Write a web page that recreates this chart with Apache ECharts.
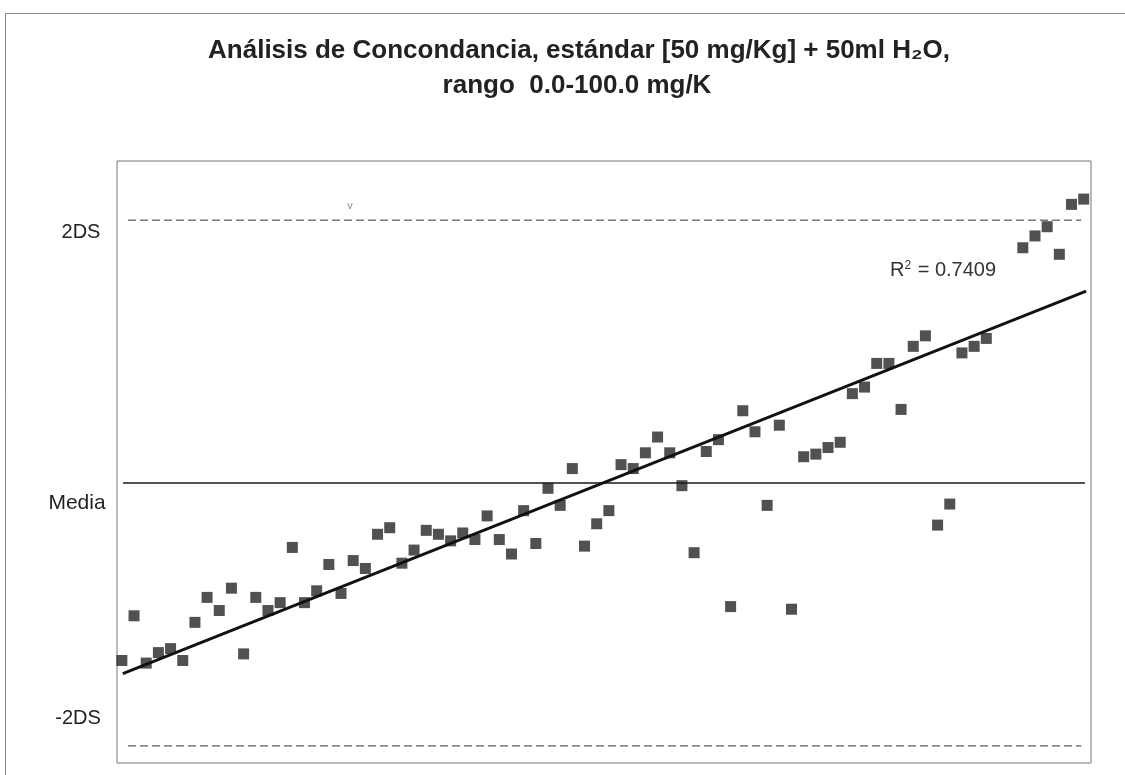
<!DOCTYPE html>
<html>
<head>
<meta charset="utf-8">
<title>Análisis de Concondancia</title>
<script src="https://cdn.jsdelivr.net/npm/echarts@6/dist/echarts.min.js"></script>
<style>
  html, body { margin: 0; padding: 0; background: #fff; }
  #chart { width: 1125px; height: 775px; }
</style>
</head>
<body>
<div id="chart"></div>
<script>
// numero de muestra (faltan 73 y 74)
const sampleNo = [
  1, 2, 3, 4, 5, 6, 7, 8, 9, 10,
  11, 12, 13, 14, 15, 16, 17, 18, 19, 20,
  21, 22, 23, 24, 25, 26, 27, 28, 29, 30,
  31, 32, 33, 34, 35, 36, 37, 38, 39, 40,
  41, 42, 43, 44, 45, 46, 47, 48, 49, 50,
  51, 52, 53, 54, 55, 56, 57, 58, 59, 60,
  61, 62, 63, 64, 65, 66, 67, 68, 69, 70,
  71, 72, 75, 76, 77, 78, 79, 80
]

// diferencia en unidades de DS respecto a la media
const diffDS = [
  -1.35, -1.01, -1.37, -1.29, -1.26, -1.35, -1.06, -0.87, -0.97, -0.80,
  -1.30, -0.87, -0.97, -0.91, -0.49, -0.91, -0.82, -0.62, -0.84, -0.59,
  -0.65, -0.39, -0.34, -0.61, -0.51, -0.36, -0.39, -0.44, -0.38, -0.43,
  -0.25, -0.43, -0.54, -0.21, -0.46, -0.04, -0.17, 0.11, -0.48, -0.31,
  -0.21, 0.14, 0.11, 0.23, 0.35, 0.23, -0.02, -0.53, 0.24, 0.33,
  -0.94, 0.55, 0.39, -0.17, 0.44, -0.96, 0.20, 0.22, 0.27, 0.31,
  0.68, 0.73, 0.91, 0.91, 0.56, 1.04, 1.12, -0.32, -0.16, 0.99,
  1.04, 1.10, 1.79, 1.88, 1.95, 1.74, 2.12, 2.16
]

// lineas de referencia y tendencia
const mediaX = [1.1, 80.1]
const limitX = [1.5, 79.8]
const upperDS = 2
const lowerDS = -2
const trendX = [1.08, 80.2]
const trendY = [-1.45, 1.46]

const yLabels = ['2DS', 'Media', '-2DS']
const r2Text = '0.7409'

const chart = echarts.init(document.getElementById('chart'))

const font = '"Liberation Sans", Arial, sans-serif'
const refLine = (name, y, xs, style) => ({
  name,
  type: 'line',
  data: xs.map(x => [x, y]),
  symbol: 'none',
  silent: true,
  lineStyle: style
})

chart.setOption({
  backgroundColor: '#fff',
  animation: false,
  textStyle: { fontFamily: font },
  grid: {
    left: 117,
    top: 161,
    right: 34,
    bottom: 12,
    show: true,
    borderColor: '#777',
    borderWidth: 1
  },
  xAxis: {
    type: 'value',
    min: 0.6,
    max: 80.6,
    axisLine: { show: false },
    axisTick: { show: false },
    axisLabel: { show: false },
    splitLine: { show: false }
  },
  yAxis: {
    type: 'value',
    min: -2.13,
    max: 2.45,
    axisLine: { show: false },
    axisTick: { show: false },
    axisLabel: { show: false },
    splitLine: { show: false }
  },
  series: [
    refLine('2DS', upperDS, limitX, { color: '#333', width: 1, type: [8, 4] }),
    refLine('-2DS', lowerDS, limitX, { color: '#333', width: 1, type: [8, 4] }),
    refLine('Media', 0, mediaX, { color: '#1a1a1a', width: 1.5 }),
    {
      name: 'muestras',
      type: 'scatter',
      symbol: 'rect',
      symbolSize: 11,
      itemStyle: { color: '#262626' },
      data: sampleNo.map((x, i) => [x, diffDS[i]])
    },
    {
      name: 'tendencia',
      type: 'line',
      symbol: 'none',
      lineStyle: { color: '#111', width: 2.8 },
      data: trendX.map((x, i) => [x, trendY[i]])
    }
  ],
  graphic: [
    // marco exterior
    {
      type: 'rect',
      shape: { x: 5.5, y: 13.5, width: 1200, height: 800 },
      style: { fill: 'none', stroke: '#888', lineWidth: 1 },
      silent: true
    },
    {
      type: 'text',
      x: 579,
      y: 51,
      style: {
        text: 'Análisis de Concondancia, estándar [50 mg/Kg] + 50ml H₂O,',
        font: 'bold 26px ' + font,
        fill: '#222',
        align: 'center',
        verticalAlign: 'middle'
      }
    },
    {
      type: 'text',
      x: 577,
      y: 86,
      style: {
        text: 'rango  0.0-100.0 mg/K',
        font: 'bold 26px ' + font,
        fill: '#222',
        align: 'center',
        verticalAlign: 'middle'
      }
    },
    {
      type: 'text',
      x: 81,
      y: 232,
      style: { text: yLabels[0], font: '20px ' + font, fill: '#222', align: 'center', verticalAlign: 'middle' }
    },
    {
      type: 'text',
      x: 77,
      y: 503,
      style: { text: yLabels[1], font: '21px ' + font, fill: '#222', align: 'center', verticalAlign: 'middle' }
    },
    {
      type: 'text',
      x: 78,
      y: 718,
      style: { text: yLabels[2], font: '20px ' + font, fill: '#222', align: 'center', verticalAlign: 'middle' }
    },
    {
      type: 'text',
      x: 890,
      y: 270,
      style: {
        text: '{r|R}{s|2}{r| = ' + r2Text + '}',
        rich: {
          r: { font: '20px ' + font, fill: '#333' },
          s: { font: '12px ' + font, fill: '#333', verticalAlign: 'top', padding: [0, 1, 9, 0] }
        },
        verticalAlign: 'middle'
      }
    },
    {
      type: 'text',
      x: 350,
      y: 206,
      style: { text: 'v', font: '11px ' + font, fill: '#888', align: 'center', verticalAlign: 'middle' }
    }
  ]
})
</script>
</body>
</html>
